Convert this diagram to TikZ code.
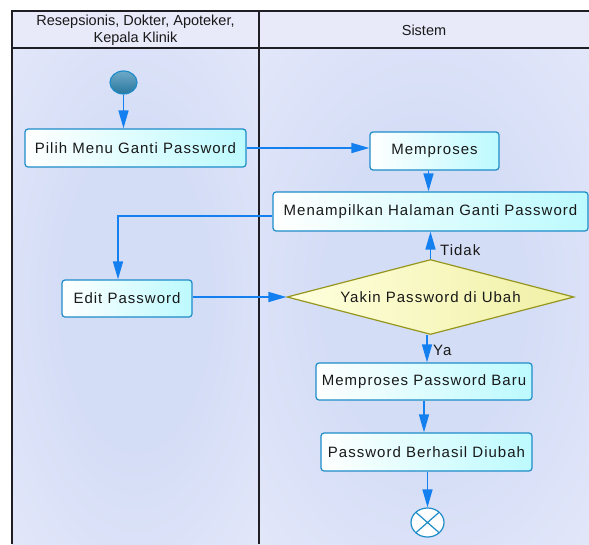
\documentclass[tikz,border=0pt]{standalone}
\usepackage{fontspec}
\setmainfont{Liberation Sans}
\newfontfamily\boxfont[LetterSpace=6.7]{Liberation Sans}
\usetikzlibrary{arrows.meta,shapes.geometric}

\definecolor{lanebg}{RGB}{236,237,252}
\definecolor{laneglow}{RGB}{212,221,246}
\definecolor{headbg}{RGB}{232,234,250}
\definecolor{frameline}{RGB}{30,30,36}
\definecolor{boxline}{RGB}{30,140,200}
\definecolor{boxcyan}{RGB}{188,250,255}
\definecolor{flowblue}{RGB}{20,128,240}
\definecolor{decline}{RGB}{150,150,30}
\definecolor{decfillA}{RGB}{255,255,222}
\definecolor{decfillB}{RGB}{240,240,165}
\definecolor{startA}{RGB}{110,170,200}
\definecolor{startB}{RGB}{40,118,158}
\definecolor{txt}{RGB}{25,25,25}

\pgfdeclareradialshading{laneglowshade}{\pgfpoint{0bp}{0bp}}{%
  color(0bp)=(laneglow); color(15bp)=(laneglow); color(50bp)=(lanebg)}

\tikzset{
  actbox/.style={draw=boxline, line width=1.2pt, rounded corners=3pt,
    left color=white, right color=boxcyan, text=txt,
    font=\boxfont\fontsize{15}{18}\selectfont, inner sep=0pt},
  decbox/.style={diamond, draw=decline, line width=1.2pt,
    left color=decfillA, right color=decfillB, text=txt,
    font=\boxfont\fontsize{15}{18}\selectfont, inner sep=0pt,
    minimum width=287pt, minimum height=75pt, aspect=3.8},
  startdot/.style={ellipse, draw=boxline, line width=1.2pt,
    top color=startA, bottom color=startB,
    minimum width=27pt, minimum height=23pt, inner sep=0pt},
  enddot/.style={ellipse, draw=boxline, line width=1.2pt, fill=white,
    minimum width=33pt, minimum height=29pt, inner sep=0pt,
    path picture={\draw[boxline, line width=1.2pt]
      (path picture bounding box.north west) -- (path picture bounding box.south east)
      (path picture bounding box.north east) -- (path picture bounding box.south west);}},
  flow/.style={draw=flowblue, line width=1.5pt,
    -{Triangle[length=18pt,width=10pt]}},
  flowlabel/.style={text=txt, font=\boxfont\fontsize{15}{18}\selectfont, inner sep=0pt},
  headtext/.style={text=txt, font=\fontsize{14.5}{17}\selectfont, align=center},
  frame/.style={draw=frameline, line width=1.5pt}
}

\begin{document}
\begin{tikzpicture}[x=1pt,y=-1pt]
\useasboundingbox (0,0) rectangle (589,544);

% swimlane backgrounds with a soft glow in each lane
\fill[lanebg] (12,11) rectangle (589,544);
\shade[shading=laneglowshade] (12,48) rectangle (259,544);
\shade[shading=laneglowshade] (259,48) rectangle (589,544);
\fill[headbg] (12,11) rectangle (589,48);

% swimlane frame
\draw[frame] (589,11) -- (12,11) -- (12,544);
\draw[frame] (259,11) -- (259,544);
\draw[draw=frameline, line width=2.2pt] (12,48) -- (589,48);

% lane titles
\node[headtext] (laneA) at (135.5,30) {Resepsionis, Dokter, Apoteker,\\Kepala Klinik};
\node[headtext] (laneB) at (424,30) {Sistem};

% activity nodes
\node[startdot] (start) at (123.5,82.5) {};
\node[actbox, minimum width=221pt, minimum height=38pt] (pilih) at (135.5,148) {Pilih Menu Ganti Password};
\node[actbox, minimum width=129pt, minimum height=38pt] (proses) at (434.5,151) {Memproses};
\node[actbox, minimum width=315pt, minimum height=39pt] (tampil) at (430.5,211.5) {Menampilkan Halaman Ganti Password};
\node[actbox, minimum width=130pt, minimum height=37pt] (edit) at (127,298.5) {Edit Password};
\node[decbox] (yakin) at (430.5,297) {Yakin Password di Ubah};
\node[actbox, minimum width=216pt, minimum height=37pt] (baru) at (424,381.5) {Memproses Password Baru};
\node[actbox, minimum width=211pt, minimum height=38pt] (berhasil) at (426.5,452) {Password Berhasil Diubah};
\node[enddot] (selesai) at (427.5,522.5) {};

% control flow
\draw[flow] (start) -- (start |- pilih.north);
\draw[flow] (pilih.east) -- (pilih.east -| proses.west);
\draw[flow] ([xshift=-6pt]proses.south) -- ([xshift=-6pt]proses.south |- tampil.north);
\draw[flow] ([yshift=-4.5pt]tampil.west) -| ([xshift=-9pt]edit.north);
\draw[flow] (edit.east |- yakin.west) -- (yakin.west);
\draw[flow] (yakin.north) -- (tampil.south);
\draw[flow] ([xshift=-3.5pt]yakin.south) -- ([xshift=-3.5pt]yakin.south |- baru.north);
\draw[flow] (baru.south) -- (baru.south |- berhasil.north);
\draw[flow] (selesai.north |- berhasil.south) -- (selesai.north);

% guard labels
\node[flowlabel, anchor=west] (tidak) at (440,250) {Tidak};
\node[flowlabel, anchor=west] (ya) at (433,350) {Ya};
\end{tikzpicture}
\end{document}
